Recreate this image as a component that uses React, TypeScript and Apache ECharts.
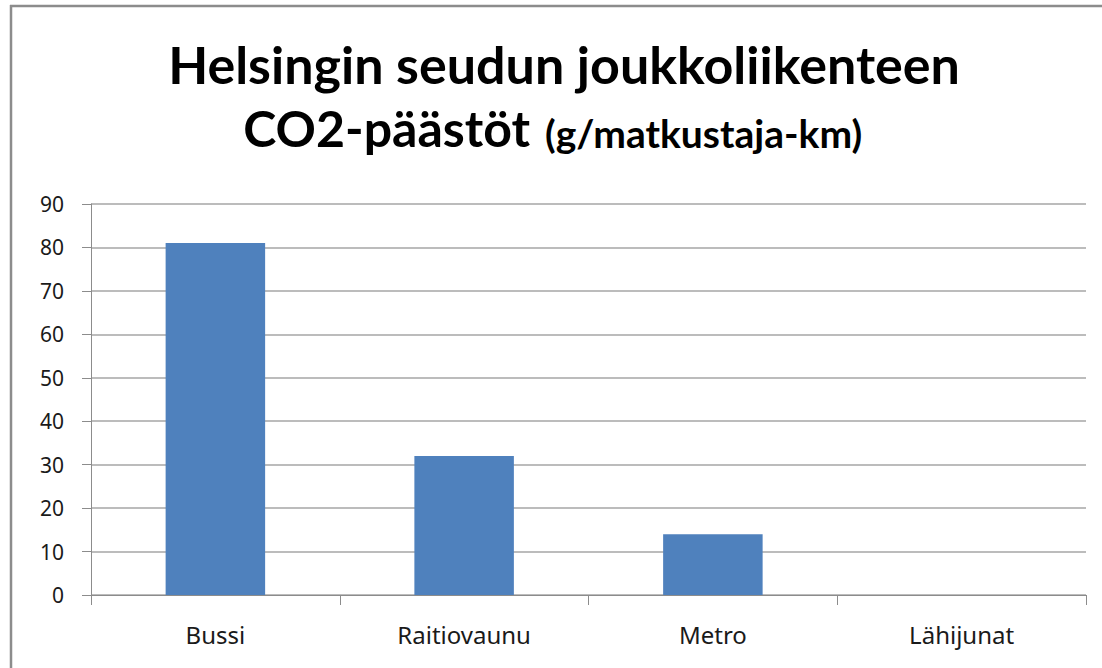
import React, { useEffect, useRef } from "react";
import * as echarts from "echarts";

const categories = ["Bussi", "Raitiovaunu", "Metro", "Lähijunat"];
const values = [81, 32, 14, 0];
const titleLine1 = "Helsingin seudun joukkoliikenteen";
const titleMain2 = "CO2-päästöt";
const titleUnit = "(g/matkustaja-km)";

const TITLE_FONT = "Lato, 'Open Sans', sans-serif";
const AXIS_FONT = "'Noto Sans', 'Open Sans', sans-serif";

export default function App() {
  const ref = useRef<HTMLDivElement>(null);
  useEffect(() => {
    if (!ref.current) return;
    const chart = echarts.init(ref.current, null, { renderer: "svg" });
    chart.setOption({
      animation: false,
      backgroundColor: "#ffffff",
      textStyle: { fontFamily: AXIS_FONT },
      grid: { left: 91, right: 16, top: 204, bottom: 73, containLabel: false },
      graphic: [
        { type: "line", shape: { x1: 10, y1: 6, x2: 1102, y2: 6 }, style: { stroke: "#8c8c8c", lineWidth: 2.5 } },
        { type: "line", shape: { x1: 11, y1: 5, x2: 11, y2: 668 }, style: { stroke: "#8c8c8c", lineWidth: 2.5 } },
        {
          type: "text",
          x: 564,
          y: 64,
          style: {
            text: titleLine1,
            fontFamily: TITLE_FONT,
            fontWeight: "bold",
            fontSize: 52,
            fill: "#000",
            align: "center",
            verticalAlign: "middle",
          },
        },
        {
          type: "text",
          x: 530,
          y: 128,
          style: {
            text: titleMain2,
            fontFamily: TITLE_FONT,
            fontWeight: "bold",
            fontSize: 50,
            fill: "#000",
            align: "right",
            verticalAlign: "middle",
          },
        },
        {
          type: "text",
          x: 545,
          y: 133,
          style: {
            text: titleUnit,
            fontFamily: TITLE_FONT,
            fontWeight: "bold",
            fontSize: 39,
            fill: "#000",
            align: "left",
            verticalAlign: "middle",
          },
        },
      ],
      xAxis: {
        type: "category",
        data: categories,
        axisLine: { show: true, lineStyle: { color: "#8c8c8c", width: 1 } },
        axisTick: { show: true, length: 10, alignWithLabel: false, lineStyle: { color: "#8c8c8c" } },
        axisLabel: { fontSize: 24, color: "#1a1a1a", margin: 27, fontFamily: AXIS_FONT },
        splitLine: { show: false },
      },
      yAxis: {
        type: "value",
        min: 0,
        max: 90,
        interval: 10,
        axisLine: { show: true, lineStyle: { color: "#8c8c8c", width: 1 } },
        axisTick: { show: true, length: 9, lineStyle: { color: "#8c8c8c" } },
        axisLabel: { fontSize: 21, color: "#1a1a1a", margin: 27, fontFamily: AXIS_FONT },
        splitLine: { show: true, lineStyle: { color: "#a6a6a6", width: 1.5 } },
      },
      series: [
        {
          type: "bar",
          data: values,
          barCategoryGap: "60%",
          itemStyle: { color: "#4f81bd" },
        },
      ],
    });
    return () => chart.dispose();
  }, []);
  return (
    <div
      ref={ref}
      style={{ position: "absolute", left: 0, top: 0, width: 1102, height: 668, background: "#fff" }}
    />
  );
}
